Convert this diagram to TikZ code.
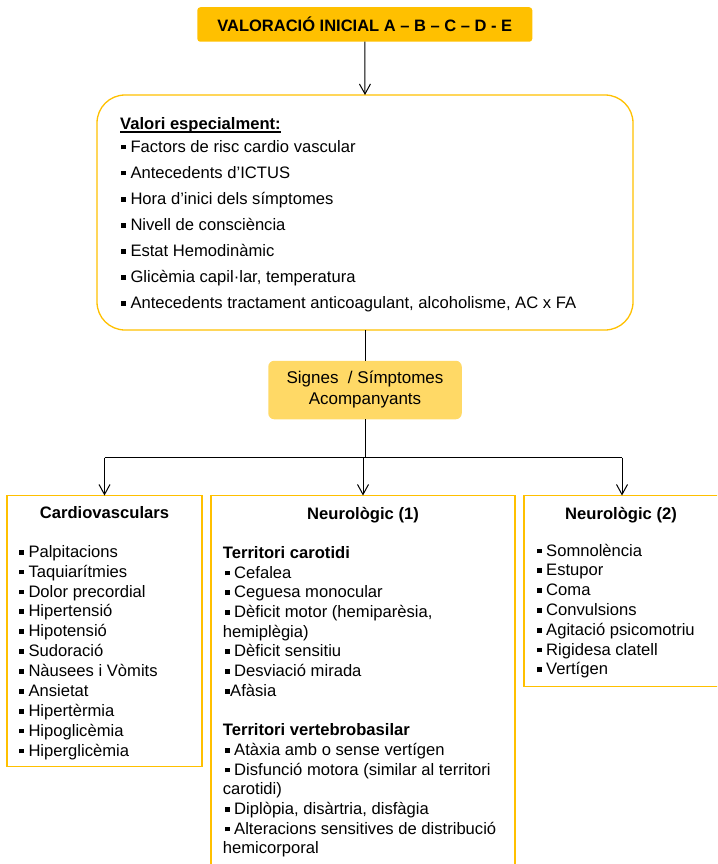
\documentclass[tikz,border=0pt]{standalone}
\usepackage{fontspec}
\setmainfont{Liberation Sans}
\usetikzlibrary{arrows.meta}
\definecolor{gold}{HTML}{FFC000}
\definecolor{lightgold}{HTML}{FFD966}
\newcommand\blt{\hspace*{2pt}\rule[2.7pt]{4.8pt}{4.8pt}\hspace{4.5pt}}
\newcommand\bltn{\hspace*{2pt}\rule[2.7pt]{4.8pt}{4.8pt}\hspace{0.5pt}}
\newcommand\undl[1]{\setbox0\hbox{#1}\rlap{\rule[-2.6pt]{\wd0}{1.3pt}}\box0}
\begin{document}
\begin{tikzpicture}[x=1pt,y=-1pt,>={Straight Barb[length=10pt,width=11pt]},
    conn/.style={draw=black,line width=1pt},
    topbox/.style={fill=gold,rounded corners=3pt,outer sep=0pt,font=\fontsize{16.5}{19.8}\selectfont\bfseries},
    bigbox/.style={draw=gold,line width=1.3pt,rounded corners=28pt,outer sep=0pt},
    signesbox/.style={fill=lightgold,rounded corners=6pt,outer sep=0pt,align=center,font=\fontsize{17}{21}\selectfont},
    catbox/.style={draw=gold,line width=1.3pt,outer sep=0pt},
    txt/.style={inner sep=0pt,anchor=base west,font=\fontsize{16.6}{19.8}\selectfont},
    head/.style={inner sep=0pt,anchor=base,font=\fontsize{16.6}{19.8}\selectfont\bfseries}]
\useasboundingbox (0,0) rectangle (717,864);
\clip (0,0) rectangle (717,864);

% boxes
\node[topbox,minimum width=335pt,minimum height=34.5pt] (valoracio) at (364.8,24.5) {VALORACIÓ INICIAL A – B – C – D - E};
\node[bigbox,minimum width=536pt,minimum height=235pt] (valoris) at (365,212.5) {};
\node[signesbox,minimum width=193.5pt,minimum height=58.5pt] (signes) at (365,390) {Signes\ \ / Símptomes\\Acompanyants};
\node[catbox,minimum width=195pt,minimum height=271.2pt] (cardio) at (104.5,631.1) {};
\node[catbox,minimum width=304pt,minimum height=400pt] (neuro1) at (363,695.5) {};
\node[catbox,minimum width=196pt,minimum height=191.2pt] (neuro2) at (622,591.1) {};

% connectors
\coordinate (junction) at (365,457.5);
\draw[conn,->] (valoracio.south) -- (valoris.north);
\draw[conn] (valoris.south) -- (signes.north);
\draw[conn] (signes.south) -- (junction);
\draw[conn] (junction -| cardio.north) -- (junction -| neuro2.north);
\draw[conn,->] (junction -| cardio.north) -- (cardio.north);
\draw[conn,->] (junction -| neuro1.north) -- (neuro1.north);
\draw[conn,->] (junction -| neuro2.north) -- (neuro2.north);

% valoracio inicial
\node[txt] (valtitle) at (120,130) {\bfseries\undl{Valori especialment:}};
\foreach \lbl [count=\i from 0] in {Factors de risc cardio vascular, Antecedents d’ICTUS,
    Hora d’inici dels símptomes, Nivell de consciència, Estat Hemodinàmic,
    {Glicèmia capil·lar, temperatura}, {Antecedents tractament anticoagulant, alcoholisme, AC x FA}}
  \node[txt] (val\i) at (119,{152+26.1*\i}) {\blt\lbl};

% cardiovasculars
\node[head] (cvtitle) at (104.5,518.5) {Cardiovasculars};
\foreach \lbl [count=\i from 0] in {Palpitacions, Taquiarítmies, Dolor precordial, Hipertensió,
    Hipotensió, Sudoració, Nàusees i Vòmits, Ansietat, Hipertèrmia, Hipoglicèmia, Hiperglicèmia}
  \node[txt] (cv\i) at (17,{557.3+19.87*\i}) {\blt\lbl};

% neurologic (1)
\node[head] (neutitle) at (363,519.5) {Neurològic (1)};
\foreach \i/\lbl in {0/{\bfseries Territori carotidi}, 1/{\blt Cefalea}, 2/{\blt Ceguesa monocular},
    3/{\blt Dèficit motor (hemiparèsia,}, 4/{hemiplègia)}, 5/{\blt Dèficit sensitiu},
    6/{\blt Desviació mirada}, 7/{\bltn Afàsia},
    9/{\bfseries Territori vertebrobasilar}, 10/{\blt Atàxia amb o sense vertígen},
    11/{\blt Disfunció motora (similar al territori}, 12/{carotidi)},
    13/{\blt Diplòpia, disàrtria, disfàgia}, 14/{\blt Alteracions sensitives de distribució},
    15/{hemicorporal}}
  \node[txt] (neu\i) at (222.7,{558.3+19.7*\i}) {\lbl};

% neurologic (2)
\node[head] (ngtitle) at (621,519) {Neurològic (2)};
\foreach \lbl [count=\i from 0] in {Somnolència, Estupor, Coma, Convulsions, Agitació psicomotriu,
    Rigidesa clatell, Vertígen}
  \node[txt] (ng\i) at (534.7,{556+19.83*\i}) {\blt\lbl};
\end{tikzpicture}
\end{document}
